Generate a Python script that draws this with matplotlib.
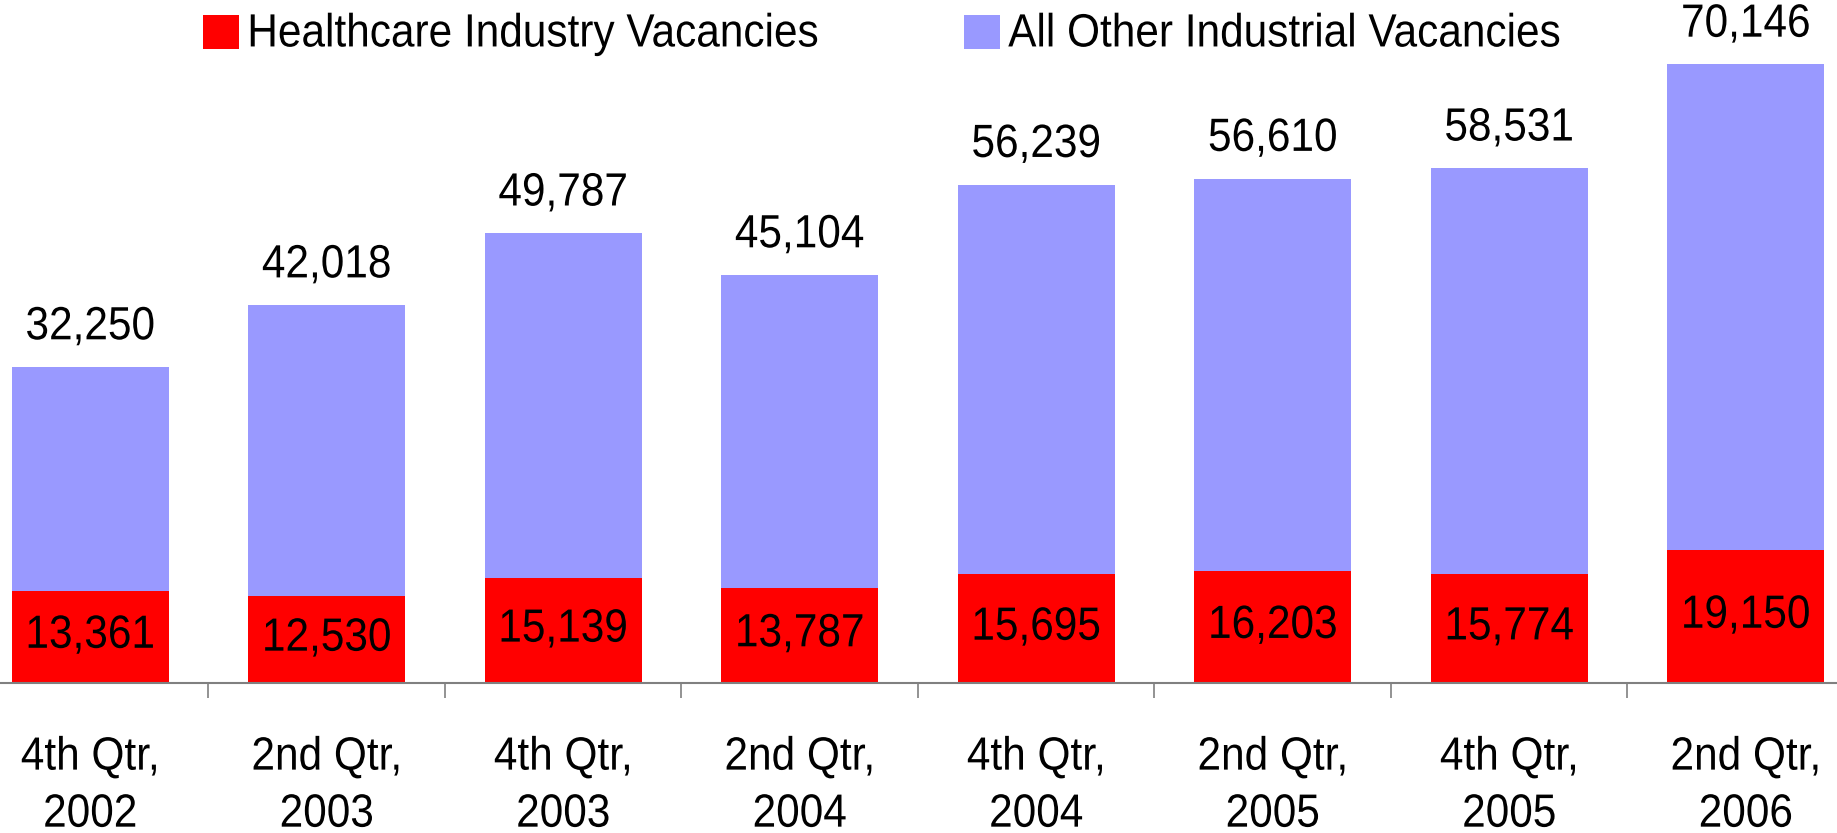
import matplotlib
matplotlib.use("Agg")
import matplotlib.pyplot as plt
from matplotlib.patheffects import AbstractPathEffect
from matplotlib.text import Text
from matplotlib.transforms import Affine2D
import numpy as np

# data
periods = ["4th Qtr,\n2002", "2nd Qtr,\n2003", "4th Qtr,\n2003", "2nd Qtr,\n2004",
           "4th Qtr,\n2004", "2nd Qtr,\n2005", "4th Qtr,\n2005", "2nd Qtr,\n2006"]
healthcare = [13361, 12530, 15139, 13787, 15695, 16203, 15774, 19150]
other = [32250, 42018, 49787, 45104, 56239, 56610, 58531, 70146]


class VStretch(AbstractPathEffect):
    # the reference font looks a little taller than Arial, stretch glyphs upward
    def __init__(self, sy):
        super().__init__()
        self.sy = sy

    def draw_path(self, renderer, gc, tpath, affine, rgbFace=None):
        renderer.draw_path(gc, tpath, Affine2D().scale(1, self.sy) + affine, rgbFace)


plt.rcParams["font.family"] = ["Liberation Sans", "DejaVu Sans"]
FS = 30.5

fig = plt.figure(figsize=(18.37, 8.33), dpi=100)
ax = fig.add_axes([0.0, 0.18, 1.0, 0.82])

x = np.arange(len(periods))
width = 0.664
b1 = ax.bar(x, healthcare, width, color="#FF0000", label="Healthcare Industry Vacancies")
b2 = ax.bar(x, other, width, bottom=healthcare, color="#9999FF",
            label="All Other Industrial Vacancies")

for xi, h, o in zip(x, healthcare, other):
    ax.text(xi, h / 2, f"{h:,}", ha="center", va="center", fontsize=FS)
    ax.annotate(f"{o:,}", (xi, h + o), xytext=(0, 20), textcoords="offset points",
                ha="center", va="baseline", fontsize=FS)

ax.set_xlim(-0.381, 7.386)
ax.set_ylim(0, 98600)

ax.set_xticks(x)
ax.set_xticklabels(periods, fontsize=FS, linespacing=1.55)
ax.tick_params(axis="x", which="major", length=0, pad=40)
ax.set_xticks(x[:-1] + 0.5, minor=True)
ax.tick_params(axis="x", which="minor", length=11, color="#808080", width=1.2)
ax.set_yticks([])

for s in ["top", "right", "left"]:
    ax.spines[s].set_visible(False)
ax.spines["bottom"].set_color("#808080")
ax.spines["bottom"].set_linewidth(1.5)

ax.legend(handles=[b1, b2], ncol=2, loc="upper center", bbox_to_anchor=(0.48, 1.003),
          frameon=False, fontsize=FS, handlelength=0.85, handleheight=0.85,
          handletextpad=0.2, columnspacing=3.43, borderaxespad=0)

for t in fig.findobj(Text):
    t.set_path_effects([VStretch(1.1)])

fig.savefig("out.png", dpi=100)
